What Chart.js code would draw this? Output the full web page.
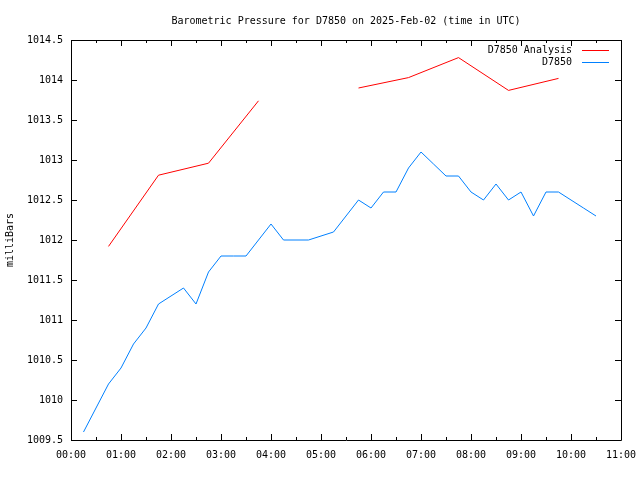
<!DOCTYPE html>
<html>
<head>
<meta charset="utf-8">
<script src="https://cdn.jsdelivr.net/npm/chart.js@4/dist/chart.umd.min.js"></script>
<style>
  html, body { margin: 0; padding: 0; background: #fff; }
  #wrap { width: 640px; height: 480px; }
</style>
</head>
<body>
<div id="wrap"><canvas id="c" width="640" height="480"></canvas></div>
<script>
const chartTitle = "Barometric Pressure for D7850 on 2025-Feb-02 (time in UTC)";
const yAxisTitle = "milliBars";

const analysisLabel = "D7850 Analysis";
const analysisTimes = ["00:45","01:45","02:45","03:45","04:45","05:45","06:45","07:45","08:45","09:45"];
const analysisValues = [1011.92, 1012.81, 1012.96, 1013.74, null, 1013.90, 1014.03, 1014.28, 1013.87, 1014.02];

const obsLabel = "D7850";
const obsTimes = ["00:15","00:30","00:45","01:00","01:15","01:30","01:45","02:00","02:15","02:30","02:45",
                  "03:00","03:15","03:30","03:45","04:00","04:15","04:30","04:45","05:00","05:15","05:30",
                  "05:45","06:00","06:15","06:30","06:45","07:00","07:15","07:30","07:45","08:00","08:15",
                  "08:30","08:45","09:00","09:15","09:30","09:45","10:00","10:15","10:30"];
const obsValues = [1009.6, 1009.9, 1010.2, 1010.4, 1010.7, 1010.9, 1011.2, 1011.3, 1011.4, 1011.2, 1011.6,
                   1011.8, 1011.8, 1011.8, 1012.0, 1012.2, 1012.0, 1012.0, 1012.0, 1012.05, 1012.1, 1012.3,
                   1012.5, 1012.4, 1012.6, 1012.6, 1012.9, 1013.1, 1012.95, 1012.8, 1012.8, 1012.6, 1012.5,
                   1012.7, 1012.5, 1012.6, 1012.3, 1012.6, 1012.6, 1012.5, 1012.4, 1012.3];

const xTickLabels = ["00:00","01:00","02:00","03:00","04:00","05:00","06:00","07:00","08:00","09:00","10:00","11:00"];
const yMin = 1009.5, yMax = 1014.5, yStep = 0.5;

const FONT = "'DejaVu Sans Mono', 'Liberation Mono', monospace";

function toHours(t) { const p = t.split(":"); return (+p[0]) + (+p[1]) / 60; }
function toPoints(times, values) { return times.map((t, i) => ({ x: toHours(t), y: values[i] })); }

const framePlugin = {
  id: 'frame',
  afterDraw(chart) {
    const ctx = chart.ctx, a = chart.chartArea;
    const xs = chart.scales.x, ys = chart.scales.y;
    ctx.save();
    ctx.strokeStyle = '#000';
    ctx.lineWidth = 1;
    ctx.beginPath();
    ctx.rect(Math.round(a.left) + 0.5, Math.round(a.top) + 0.5, Math.round(a.right - a.left), Math.round(a.bottom - a.top));
    ctx.stroke();
    ctx.beginPath();
    for (let h = 0; h <= 11; h += 0.5) {
      const px = Math.round(xs.getPixelForValue(h)) + 0.5;
      const len = (h % 1 === 0) ? 6 : 3;
      ctx.moveTo(px, a.bottom); ctx.lineTo(px, a.bottom - len);
      ctx.moveTo(px, a.top); ctx.lineTo(px, a.top + len);
    }
    for (let v = yMin; v <= yMax + 1e-9; v += yStep) {
      const py = Math.round(ys.getPixelForValue(v)) + 0.5;
      ctx.moveTo(a.left, py); ctx.lineTo(a.left + 6, py);
      ctx.moveTo(a.right, py); ctx.lineTo(a.right - 6, py);
    }
    ctx.stroke();

    ctx.fillStyle = '#000';
    ctx.font = "10px " + FONT;
    ctx.textAlign = 'center';
    ctx.textBaseline = 'middle';
    ctx.fillText(chartTitle, (a.left + a.right) / 2, 21);

    ctx.textAlign = 'right';
    const textRight = a.right - 49;
    chart.data.datasets.forEach((ds, i) => {
      const y = a.top + 10 + i * 12;
      ctx.fillStyle = '#000';
      ctx.fillText(ds.label, textRight, y);
      ctx.strokeStyle = ds.borderColor;
      ctx.beginPath();
      ctx.moveTo(textRight + 10, Math.round(y) + 0.5);
      ctx.lineTo(textRight + 37, Math.round(y) + 0.5);
      ctx.stroke();
    });
    ctx.restore();
  }
};

new Chart(document.getElementById('c'), {
  type: 'line',
  data: {
    datasets: [
      { label: analysisLabel, data: toPoints(analysisTimes, analysisValues), borderColor: '#ff0000',
        borderWidth: 1, pointRadius: 0, tension: 0, spanGaps: false, fill: false },
      { label: obsLabel, data: toPoints(obsTimes, obsValues), borderColor: '#0080ff',
        borderWidth: 1, pointRadius: 0, tension: 0, spanGaps: false, fill: false }
    ]
  },
  options: {
    responsive: false,
    animation: false,
    events: [],
    layout: { padding: { top: 40, right: 19, left: 0, bottom: 0 } },
    plugins: { legend: { display: false }, title: { display: false }, tooltip: { enabled: false } },
    scales: {
      x: {
        type: 'linear', min: 0, max: 11,
        grid: { display: false, drawTicks: false },
        border: { display: false },
        ticks: {
          stepSize: 1, padding: 9, color: '#000', maxRotation: 0, autoSkip: false,
          font: { family: FONT, size: 10 },
          callback: (v) => xTickLabels[Math.round(v)] ?? ''
        },
        afterFit: (s) => { s.height = 40; s.paddingLeft = 0; s.paddingRight = 0; }
      },
      y: {
        type: 'linear', min: yMin, max: yMax,
        grid: { display: false, drawTicks: false },
        border: { display: false },
        ticks: {
          stepSize: yStep, padding: 8, color: '#000',
          font: { family: FONT, size: 10 },
          callback: (v) => String(Math.round(v * 10) / 10)
        },
        title: { display: true, text: yAxisTitle, color: '#000', font: { family: FONT, size: 10 }, padding: { top: 4, bottom: 0 } },
        afterFit: (s) => { s.width = 71; s.paddingTop = 0; s.paddingBottom = 0; }
      }
    }
  },
  plugins: [framePlugin]
});
</script>
</body>
</html>
